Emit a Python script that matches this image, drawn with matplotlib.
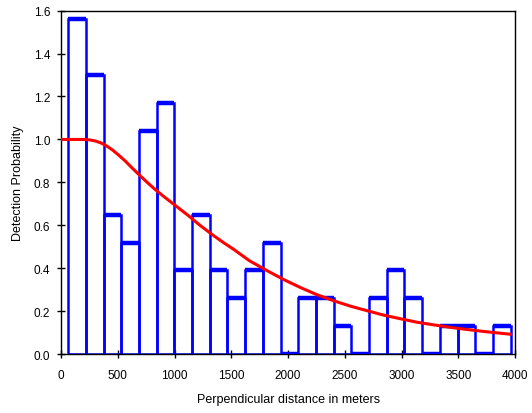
import numpy as np
import matplotlib
matplotlib.use('Agg')
import matplotlib.pyplot as plt

plt.rcParams['font.family'] = ['Liberation Sans', 'DejaVu Sans']

# histogram of scaled detections (bin left edges in meters, bin width)
bin_left = [62, 218, 374, 530, 686, 842, 998, 1154, 1310, 1466, 1622, 1778, 1934,
            2090, 2246, 2402, 2558, 2714, 2870, 3026, 3182, 3338, 3494, 3650, 3806]
bin_width = 156
bar_heights = [1.56, 1.30, 0.65, 0.52, 1.04, 1.17, 0.39, 0.65, 0.39, 0.26, 0.39, 0.52, 0.0,
               0.26, 0.26, 0.13, 0.0, 0.26, 0.39, 0.26, 0.0, 0.13, 0.13, 0.0, 0.13]

# fitted detection function
curve_x = [0, 100, 200, 250, 300, 350, 400, 450, 500, 560, 620, 682, 750, 828, 910,
           1000, 1122, 1224, 1344, 1430, 1521, 1660, 1815, 1960, 2107, 2250, 2401,
           2548, 2700, 2842, 3000, 3136, 3280, 3430, 3580, 3723, 3850, 3960]
curve_y = [1.0, 1.0, 1.0, 0.998, 0.993, 0.984, 0.97, 0.952, 0.93, 0.902, 0.87,
           0.838, 0.804, 0.767, 0.732, 0.695, 0.645, 0.60, 0.552, 0.52, 0.488, 0.435,
           0.389, 0.348, 0.311, 0.278, 0.249, 0.224, 0.202, 0.182, 0.164, 0.149,
           0.137, 0.125, 0.115, 0.106, 0.099, 0.093]

fig = plt.figure(figsize=(5.32, 4.14), dpi=100)
ax = fig.add_axes([0.115, 0.142, 0.853, 0.830])

ax.bar(bin_left, bar_heights, width=bin_width, align='edge', fill=False,
       edgecolor='#0000ff', linewidth=1.8, zorder=2)
# thicker caps on top of each bar
ax.hlines(bar_heights, bin_left, np.array(bin_left) + bin_width,
          colors='#0000ff', linewidth=3.2, zorder=3)

ax.plot(curve_x, curve_y, color='#ff0000', linewidth=2.2, zorder=4)

ax.set_xlim(0, 4000)
ax.set_ylim(0, 1.6)
ax.set_xticks(np.arange(0, 4001, 500))
ax.set_yticks(np.arange(0, 1.61, 0.2))
ax.yaxis.set_major_formatter(matplotlib.ticker.FormatStrFormatter('%.1f'))
ax.tick_params(direction='inout', length=6, width=1, labelsize=8.5)
ax.tick_params(axis='x', pad=8)
ax.tick_params(axis='y', pad=5)
for s in ax.spines.values():
    s.set_linewidth(1)

ax.set_xlabel('Perpendicular distance in meters', fontsize=9, labelpad=8)
ax.set_ylabel('Detection Probability', fontsize=9, labelpad=7)

fig.savefig('out.png', dpi=100)
